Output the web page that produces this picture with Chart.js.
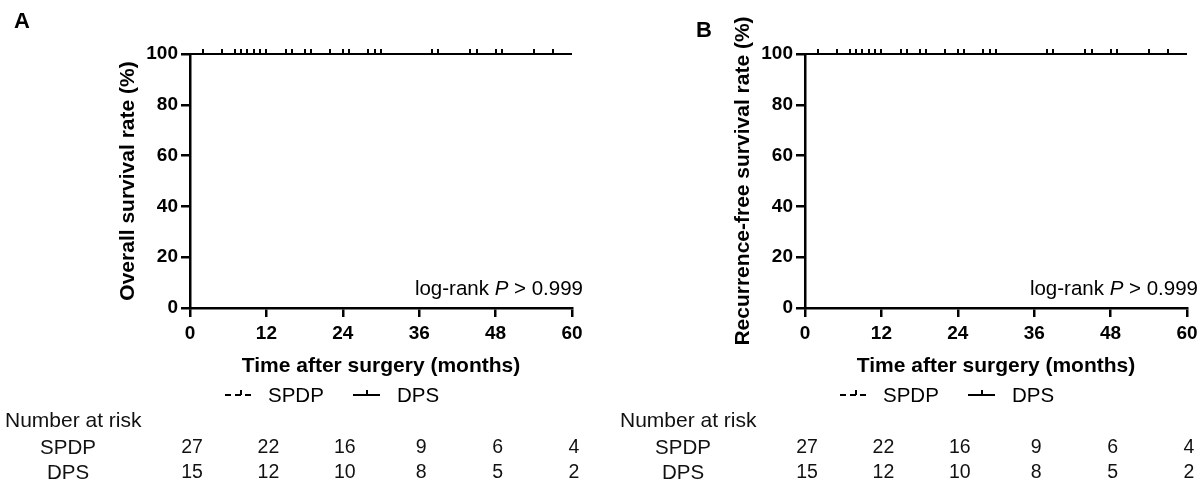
<!DOCTYPE html>
<html>
<head>
<meta charset="utf-8">
<script src="https://cdn.jsdelivr.net/npm/chart.js@4"></script>
<style>
  html, body { margin: 0; padding: 0; background: #fff; }
  body { width: 1204px; height: 489px; position: relative; overflow: hidden; }
  .pane { position: absolute; top: 0; height: 489px; }
  #paneA { left: 0; width: 602px; }
  #paneB { left: 615px; width: 589px; }
</style>
</head>
<body>
<div class="pane" id="paneA"><canvas id="chartA"></canvas></div>
<div class="pane" id="paneB"><canvas id="chartB"></canvas></div>
<script>
// ---- data ----
const xTickMonths = [0, 12, 24, 36, 48, 60];
const yTickValues = [0, 20, 40, 60, 80, 100];
const groupNames = ['SPDP', 'DPS'];
const spdpAtRisk = [27, 22, 16, 9, 6, 4];
const dpsAtRisk = [15, 12, 10, 8, 5, 2];
const spdpStepTimes = [0, 60];
const spdpStepSurvival = [100, 100];
const dpsStepTimes = [0, 60];
const dpsStepSurvival = [100, 100];
const spdpCensorTimes = [2, 7, 9, 10, 11, 15, 16, 19, 22, 24, 25, 28, 29, 30, 38, 44, 48, 54];
const dpsCensorTimes = [5, 8, 12, 18, 28, 39, 45, 49, 57];
const panelLetters = ['A', 'B'];
const panelYTitles = ['Overall survival rate (%)', 'Recurrence-free survival rate (%)'];
const xTitle = 'Time after surgery (months)';
const pValueText = '> 0.999';

const FONT = "'Liberation Sans', Arial, Helvetica, sans-serif";
const TEXT_PX = 20.5;

// censor mark image: vertical tick sitting on top of the curve
function makeCensorMark() {
  const c = document.createElement('canvas');
  c.width = 2; c.height = 12;
  const g = c.getContext('2d');
  g.fillStyle = '#000';
  g.fillRect(0, 1, 2, 5);
  return c;
}
const censorMark = makeCensorMark();

function pts(xs, ys) { return xs.map((x, i) => ({ x: x, y: ys[i] })); }
function censorPts(times, survTimes, survVals) {
  return times.map(t => {
    let v = survVals[0];
    for (let i = 0; i < survTimes.length; i++) if (survTimes[i] <= t) v = survVals[i];
    return { x: t, y: v };
  });
}

const decorPlugin = {
  id: 'kmDecor',
  afterDraw(chart, args, opts) {
    const ctx = chart.ctx;
    const xs = chart.scales.x;
    const axisX = xs.left;
    ctx.save();
    ctx.fillStyle = '#000';
    ctx.strokeStyle = '#000';
    // panel letter
    ctx.font = 'bold 22px ' + FONT;
    ctx.textAlign = 'center';
    ctx.textBaseline = 'middle';
    ctx.fillText(opts.letter, opts.letterX, opts.letterY);

    // log-rank text (right aligned)
    const nf = TEXT_PX + 'px ' + FONT;
    const itf = 'italic ' + TEXT_PX + 'px ' + FONT;
    ctx.textBaseline = 'alphabetic';
    ctx.textAlign = 'left';
    const part1 = 'log-rank ';
    const partP = 'P';
    const part3 = ' ' + pValueText;
    ctx.font = nf;
    const w1 = ctx.measureText(part1).width;
    const w3 = ctx.measureText(part3).width;
    ctx.font = itf;
    const w2 = ctx.measureText(partP).width;
    const right = xs.right + 11;
    const x0 = right - (w1 + w2 + w3);
    const yb = 295;
    ctx.font = nf;
    ctx.fillText(part1, x0, yb);
    ctx.font = itf;
    ctx.fillText(partP, x0 + w1, yb);
    ctx.font = nf;
    ctx.fillText(part3, x0 + w1 + w2, yb);

    // legend
    const ly = 395;
    ctx.lineWidth = 2;
    ctx.setLineDash([6, 4]);
    ctx.beginPath(); ctx.moveTo(axisX + 35, ly); ctx.lineTo(axisX + 62, ly); ctx.stroke();
    ctx.setLineDash([]);
    ctx.fillRect(axisX + 50, ly - 5, 2, 5);
    ctx.beginPath(); ctx.moveTo(axisX + 163, ly); ctx.lineTo(axisX + 190, ly); ctx.stroke();
    ctx.fillRect(axisX + 176, ly - 5, 2, 5);
    ctx.font = nf;
    ctx.textBaseline = 'middle';
    ctx.textAlign = 'left';
    ctx.fillText(groupNames[0], axisX + 78, ly + 1);
    ctx.fillText(groupNames[1], axisX + 207, ly + 1);

    // number at risk table
    ctx.fillStyle = '#111';
    ctx.font = '21px ' + FONT;
    ctx.fillText('Number at risk', axisX - 185, 421);
    ctx.textAlign = 'center';
    const rows = [spdpAtRisk, dpsAtRisk];
    const rowY = [448, 473];
    rows.forEach((row, r) => {
      ctx.font = nf;
      ctx.fillText(groupNames[r], axisX - 122, rowY[r]);
      ctx.font = '19.5px ' + FONT;
      row.forEach((n, i) => {
        ctx.fillText(String(n), xs.getPixelForValue(xTickMonths[i]) + 2, rowY[r]);
      });
    });
    ctx.restore();
  }
};

function makeChart(id, idx, padRight) {
  const tickFont = { family: FONT, size: 19, weight: 'bold' };
  const titleFont = { family: FONT, size: 21, weight: 'bold' };
  const axisCommon = {
    type: 'linear',
    grid: { display: true, drawOnChartArea: false, drawTicks: true, tickLength: 9, color: '#000', lineWidth: 2.5 },
    border: { display: true, color: '#000', width: 2.5 },
  };
  return new Chart(document.getElementById(id), {
    data: {
      datasets: [
        { type: 'line', label: groupNames[0], data: pts(spdpStepTimes, spdpStepSurvival), stepped: true,
          borderColor: '#000', borderWidth: 2, borderDash: [6, 4], pointRadius: 0, clip: false, order: 2 },
        { type: 'line', label: groupNames[1], data: pts(dpsStepTimes, dpsStepSurvival), stepped: true,
          borderColor: '#000', borderWidth: 2, pointRadius: 0, clip: false, order: 1 },
        { type: 'scatter', label: groupNames[0] + ' censored', data: censorPts(spdpCensorTimes, spdpStepTimes, spdpStepSurvival),
          pointStyle: censorMark, clip: false, order: 0 },
        { type: 'scatter', label: groupNames[1] + ' censored', data: censorPts(dpsCensorTimes, dpsStepTimes, dpsStepSurvival),
          pointStyle: censorMark, clip: false, order: 0 }
      ]
    },
    options: {
      responsive: true,
      maintainAspectRatio: false,
      animation: false,
      events: [],
      layout: { autoPadding: false, padding: { left: 112, top: 54, right: padRight, bottom: 107 } },
      plugins: {
        legend: { display: false },
        tooltip: { enabled: false },
        kmDecor: { letter: panelLetters[idx], letterX: idx === 0 ? 22 : 89, letterY: idx === 0 ? 22 : 31 }
      },
      scales: {
        x: Object.assign({}, axisCommon, {
          position: 'bottom', min: 0, max: 60,
          afterBuildTicks: s => { s.ticks = xTickMonths.map(v => ({ value: v })); },
          afterFit: s => { s.height = 74; },
          ticks: { font: tickFont, color: '#000', padding: 5, maxRotation: 0, autoSkip: false },
          title: { display: true, text: xTitle, font: titleFont, color: '#000', padding: { top: 1, bottom: 3 } }
        }),
        y: Object.assign({}, axisCommon, {
          position: 'left', min: 0, max: 100,
          afterBuildTicks: s => { s.ticks = yTickValues.map(v => ({ value: v })); },
          afterFit: s => { s.width = 78; },
          ticks: { font: tickFont, color: '#000', padding: 3, autoSkip: false },
          title: { display: true, text: panelYTitles[idx], font: titleFont, color: '#000', padding: { top: 4, bottom: 4 } }
        })
      }
    },
    plugins: [decorPlugin]
  });
}

makeChart('chartA', 0, 30);
makeChart('chartB', 1, 17);
</script>
</body>
</html>
